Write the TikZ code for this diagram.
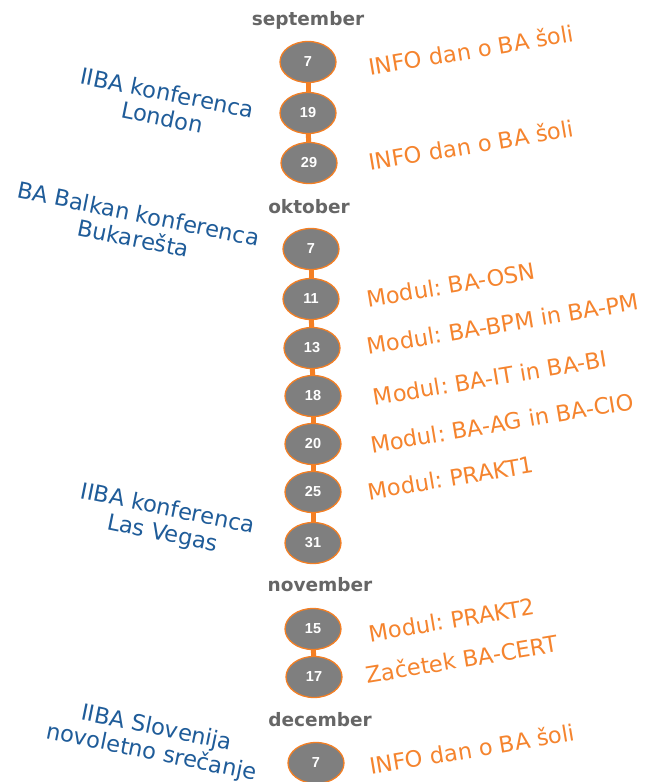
\documentclass[tikz,border=0pt]{standalone}
\usepackage{fontspec}
\setmainfont{DejaVu Sans}
\newfontfamily\numfont{Liberation Sans}
\usetikzlibrary{shapes.geometric}
\definecolor{orng}{HTML}{F47F24}
\definecolor{txtorng}{HTML}{F5842E}
\definecolor{bluetxt}{HTML}{1F5C99}
\definecolor{graymon}{HTML}{666666}
\definecolor{dayfill}{HTML}{7F7F7F}
\frenchspacing
\begin{document}
\begin{tikzpicture}[x=1pt,y=-1pt,
  day/.style={ellipse,draw=orng,line width=1.3pt,fill=dayfill,minimum width=56pt,minimum height=41pt,inner sep=0pt,text=white,font=\numfont\bfseries\fontsize{14.5}{16}\selectfont},
  month/.style={text=graymon,font=\bfseries\fontsize{18.5}{21}\selectfont,inner sep=1pt},
  evt/.style={text=txtorng,font=\fontsize{22.5}{26}\selectfont,rotate=9.5,inner sep=0pt},
  conf/.style={text=bluetxt,font=\fontsize{22.5}{25}\selectfont,rotate=-11.5,align=center,inner sep=0pt},
  link/.style={draw=orng,line width=5pt}]
\useasboundingbox[fill=white] (0,0) rectangle (657,782);
% months
\node[month] (sep) at (308,20) {september};
\node[month] (okt) at (309,207) {oktober};
\node[month] (nov) at (320,585) {november};
\node[month] (dec) at (320,720) {december};
% days
\node[day] (s7) at (308,62) {7};
\node[day] (s19) at (308,113) {19};
\node[day] (s29) at (309,163) {29};
\node[day] (o7) at (311,249) {7};
\node[day] (o11) at (311,299) {11};
\node[day] (o13) at (312,348) {13};
\node[day] (o18) at (313,396) {18};
\node[day] (o20) at (313,444) {20};
\node[day] (o25) at (313,492) {25};
\node[day] (o31) at (313,543) {31};
\node[day] (n15) at (313,629) {15};
\node[day] (n17) at (314,677) {17};
\node[day] (d7) at (316,763) {7};
% links
\draw[link] (s7) -- (s19);
\draw[link] (s19) -- (s29);
\draw[link] (o7) -- (o11);
\draw[link] (o11) -- (o13);
\draw[link] (o13) -- (o18);
\draw[link] (o18) -- (o20);
\draw[link] (o20) -- (o25);
\draw[link] (o25) -- (o31);
\draw[link] (n15) -- (n17);
% events
\node[evt] (e1) at (471,50) {INFO dan o BA šoli};
\node[evt] (e2) at (471,145) {INFO dan o BA šoli};
\node[evt] (e3) at (451,285) {Modul: BA-OSN};
\node[evt] (e4) at (503,324) {Modul: BA-BPM in BA-PM};
\node[evt] (e5) at (490,378) {Modul: BA-IT in BA-BI};
\node[evt] (e6) at (502,423) {Modul: BA-AG in BA-CIO};
\node[evt] (e7) at (451,478) {Modul: PRAKT1};
\node[evt] (e8) at (452,620) {Modul: PRAKT2};
\node[evt] (e9) at (462,659) {Začetek BA-CERT};
\node[evt] (e10) at (472,749) {INFO dan o BA šoli};
% conferences
\node[conf] (c1) at (165,105) {IIBA konferenca\\London};
\node[conf] (c2) at (136,226) {BA Balkan konferenca\\Bukarešta};
\node[conf] (c3) at (165,522) {IIBA konferenca\\Las Vegas};
\node[conf] (c4) at (154,741) {IIBA Slovenija\\novoletno srečanje};
\end{tikzpicture}
\end{document}
